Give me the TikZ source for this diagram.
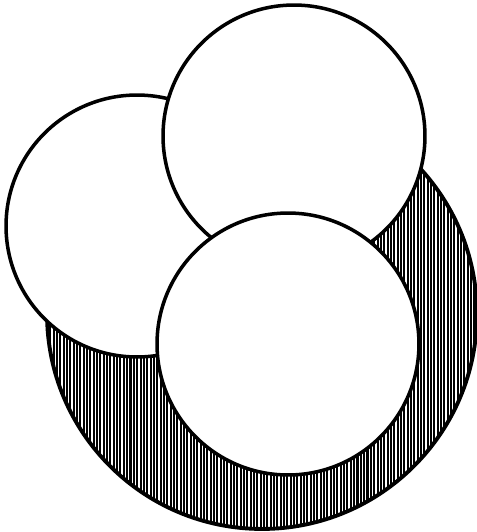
\documentclass[tikz,border=0pt]{standalone}
\usetikzlibrary{positioning}

\begin{document}
\begin{tikzpicture}[
  x=0.02cm, y=-0.02cm,
  % ── node styles ──────────────────────────────────────────
  ball/.style={
    circle, draw, fill=white, line width=2pt,
    minimum size=5.24cm, inner sep=0pt
  },
  shade/.style={
    circle, draw, line width=2.2pt,
    minimum size=8.6cm, inner sep=0pt,
    path picture={
      \foreach \i in {0,...,140}
        \draw[line width=1.15pt]
          ([xshift=\i*1.9pt]path picture bounding box.south west) --
          ([xshift=\i*1.9pt]path picture bounding box.north west);
    }
  },
]
\useasboundingbox (0,0) rectangle (477,532);

%% ── HATCHED BACK DISC ────────────────────────────────────────
\node[shade] (big) at (262,314) {};

%% ── THREE WHITE DISCS ────────────────────────────────────────
\node[ball] (left)   at (137,226) {};
\node[ball] (top)    at (294,136) {};
\node[ball] (bottom) at (288,344) {};

\end{tikzpicture}
\end{document}
